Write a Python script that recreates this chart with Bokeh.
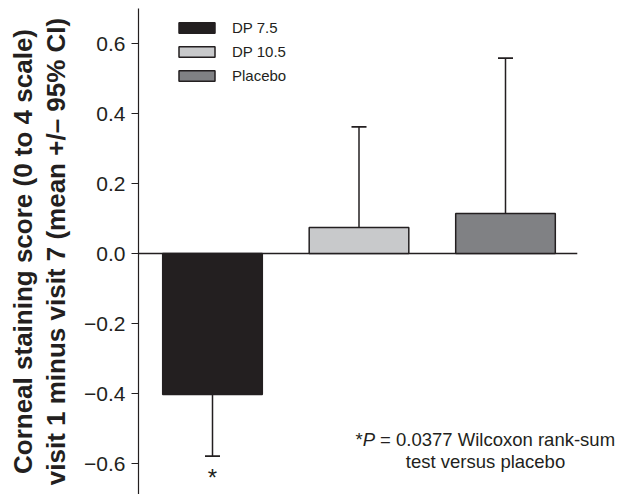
from bokeh.plotting import figure
from bokeh.models import Range1d, FixedTicker, Label, Legend, LegendItem, ColumnDataSource
from bokeh.core.properties import value
from bokeh.embed import file_html
from bokeh.resources import INLINE

groups = ["DP 7.5", "DP 10.5", "Placebo"]
means = [-0.403, 0.074, 0.114]
ci_end = [-0.579, 0.362, 0.558]
colors = ["#231f20", "#c8c9cb", "#808184"]
ticks = [-0.6, -0.4, -0.2, 0.0, 0.2, 0.4, 0.6]
tick_labels = {-0.6: "\u22120.6", -0.4: "\u22120.4", -0.2: "\u22120.2", 0.0: "0.0", 0.2: "0.2", 0.4: "0.4", 0.6: "0.6"}
ylabel = "Corneal staining score (0 to 4 scale)\nvisit 1 minus visit 7 (mean +/\u2013 95% CI)"
note1a = "*"
note1b = "P"
note1c = "= 0.0377 Wilcoxon rank-sum"
note2 = "test versus placebo"

FONT = "Liberation Sans"
DARK = "#231f20"

# canvas geometry helpers
W, H = 618, 494
FL, FT = 138, 8
PXX = 146.5
XL = -74 / PXX
XR = XL + (W - FL) / PXX
PXY = 350.0
YT = 245 / PXY
YB = YT - (H - FT) / PXY

def xd(cx):
    return XL + (cx - FL) / PXX

def yd(cy):
    return YT - (cy - FT) / PXY

p = figure(width=W, height=H, x_range=Range1d(XL, XR), y_range=Range1d(YB, YT),
           output_backend="svg", toolbar_location=None, x_axis_location=None,
           min_border_left=FL, min_border_right=0, min_border_top=FT, min_border_bottom=0)
p.grid.visible = False
p.outline_line_color = None
p.background_fill_color = "white"

xs = list(range(len(groups)))
src = ColumnDataSource(dict(x=xs, top=means, color=colors, grp=groups, ci=ci_end))

# zero baseline from axis to just past the last bar
p.segment(x0=[XL], y0=[0], x1=[xs[-1] + 0.49], y1=[0], line_color=DARK, line_width=1.5)

r = p.vbar(x="x", top="top", bottom=0, width=0.68, fill_color="color", line_color=DARK,
           line_width=1.5, source=src)

p.segment(x0="x", y0="top", x1="x", y1="ci", source=src, line_color=DARK, line_width=1.5)
p.scatter(x="x", y="ci", marker="dash", size=15, line_color=DARK, line_width=1.8, source=src)

# asterisk under DP 7.5
p.text(x=[xs[0]], y=[ci_end[0]], text=["*"], text_font=value(FONT), text_font_size="24px",
       text_align="center", text_baseline="top", y_offset=8, text_color=DARK)

# legend
items = [LegendItem(label=g, renderers=[r], index=i) for i, g in enumerate(groups)]
leg = Legend(items=items, location=(36, (H - FT) - 76), orientation="vertical",
             glyph_width=45, glyph_height=13, label_height=13, spacing=7, padding=0, margin=0,
             label_text_font=FONT, label_text_font_size="15px", label_text_color=DARK,
             label_standoff=13, border_line_color=None, background_fill_alpha=0)
p.add_layout(leg)

# axis
ax = p.yaxis[0]
ax.ticker = FixedTicker(ticks=ticks)
ax.major_label_overrides = tick_labels
ax.minor_tick_line_color = None
ax.major_tick_in = 0
ax.major_tick_out = 7
ax.major_label_standoff = 6
ax.axis_line_color = DARK
ax.axis_line_width = 1.2
ax.major_tick_line_color = DARK
ax.major_tick_line_width = 1.2
ax.major_label_text_font = FONT
ax.major_label_text_font_size = "21px"
ax.major_label_text_color = DARK
ax.axis_label = ylabel
ax.axis_label_text_font = FONT
ax.axis_label_text_font_size = "26px"
ax.axis_label_text_font_style = "bold"
ax.axis_label_text_color = DARK
ax.axis_label_text_line_height = 1.1
ax.axis_label_standoff = 10

# note
x0 = xd(485)
yl1, yl2 = yd(439), yd(461)
fs = "18.5px"
p.add_layout(Label(x=x0, y=yl1, text=note1a, x_offset=-130, text_font=FONT, text_font_size=fs,
                   text_baseline="middle", text_align="left", text_color=DARK))
p.add_layout(Label(x=x0, y=yl1, text=note1b, x_offset=-122.8, text_font=FONT, text_font_size=fs,
                   text_font_style="italic", text_baseline="middle", text_align="left", text_color=DARK))
p.add_layout(Label(x=x0, y=yl1, text=note1c, x_offset=-105.4, text_font=FONT, text_font_size=fs,
                   text_baseline="middle", text_align="left", text_color=DARK))
p.add_layout(Label(x=x0, y=yl2, text=note2, text_font=FONT, text_font_size=fs,
                   text_baseline="middle", text_align="center", text_color=DARK))

open("out.html", "w").write(file_html(p, INLINE))
